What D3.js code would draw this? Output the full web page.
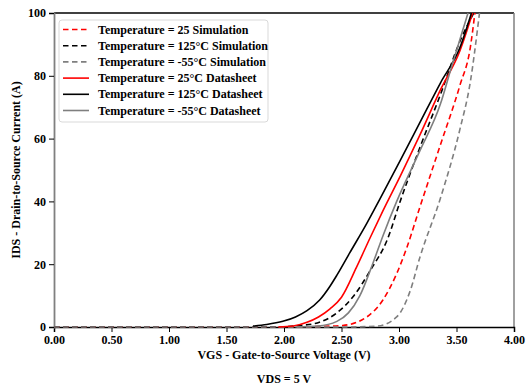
<!DOCTYPE html>
<html>
<head>
<meta charset="utf-8">
<script src="https://cdn.jsdelivr.net/npm/d3@7"></script>
<style>
  body { margin: 0; background: #fff; }
  svg text { font-family: "Liberation Serif", "Times New Roman", serif; font-weight: bold; fill: #000; }
</style>
</head>
<body>
<div id="chart"></div>
<script>
// simulation curves (VGS in V, IDS in A)
const sim25V   = [0, 2.20, 2.31, 2.51, 2.72, 2.86, 2.98, 3.07, 3.18, 3.36, 3.53, 3.62, 3.66];
const sim25I   = [0, 0,    0.2,  0.5,  3.2,  8.6,  17,   25.5, 38,   58,   77,   89,   100];
const sim125V  = [0, 1.95, 2.14, 2.29, 2.46, 2.60, 2.75, 2.90, 3.01, 3.18, 3.36, 3.53, 3.65];
const sim125I  = [0, 0,    0.5,  1.3,  4.5,  9.6,  18,   28,   40,   57,   74,   91,   100];
const simM55V  = [0, 2.55, 2.81, 2.98, 3.10, 3.18, 3.36, 3.53, 3.62, 3.69, 3.70];
const simM55I  = [0, 0,    0.3,  3.2,  11.8, 22,   41,   63,   78,   97,   100];

// datasheet curves
const ds25V    = [1.95, 2.08, 2.20, 2.30, 2.40, 2.50, 2.63, 2.75, 2.86, 3.01, 3.18, 3.36, 3.53, 3.64];
const ds25I    = [0,    0.3,  1.5,  3.2,  5.8,  9.5,  19,   28.5, 37,   48,   61,   75.5, 88,   100];
const ds125V   = [1.73, 1.85, 1.99, 2.10, 2.20, 2.31, 2.40, 2.46, 2.57, 2.72, 2.83, 3.01, 3.18, 3.36, 3.53, 3.63];
const ds125I   = [0.3,  0.8,  1.8,  3.2,  5.2,  8.6,  13,   16.5, 23.5, 33,   40.5, 53,   65,   77.7, 89,   100];
const dsM55V   = [2.10, 2.29, 2.46, 2.56, 2.66, 2.77, 2.86, 2.98, 3.18, 3.36, 3.45, 3.55, 3.60];
const dsM55I   = [0,    0.3,  1.8,  4.5,  10,   20,   29,   40,   56,   71,   82,   94,   100];

const xTicks = [0, 0.5, 1.0, 1.5, 2.0, 2.5, 3.0, 3.5, 4.0];
const yTicks = [0, 20, 40, 60, 80, 100];

const series = [
  { name: "Temperature = 25 Simulation",      v: sim25V,  i: sim25I,  color: "#ff0000", dash: true },
  { name: "Temperature = 125°C Simulation",   v: sim125V, i: sim125I, color: "#000000", dash: true },
  { name: "Temperature = -55°C Simulation",   v: simM55V, i: simM55I, color: "#7f7f7f", dash: true },
  { name: "Temperature = 25°C Datasheet",     v: ds25V,   i: ds25I,   color: "#ff0000", dash: false },
  { name: "Temperature = 125°C Datasheet",    v: ds125V,  i: ds125I,  color: "#000000", dash: false },
  { name: "Temperature = -55°C Datasheet",    v: dsM55V,  i: dsM55I,  color: "#7f7f7f", dash: false }
];

const width = 529, height = 387;
const margin = { top: 13, right: 15, bottom: 60, left: 54 };
const innerW = width - margin.left - margin.right;
const innerH = height - margin.top - margin.bottom;
const fs = "12px";

const svg = d3.select("#chart").append("svg")
  .attr("width", width)
  .attr("height", height);

const g = svg.append("g").attr("transform", `translate(${margin.left},${margin.top})`);

const x = d3.scaleLinear().domain([0, 4]).range([0, innerW]);
const y = d3.scaleLinear().domain([0, 100]).range([innerH, 0]);

g.append("clipPath").attr("id", "clip")
  .append("rect").attr("width", innerW).attr("height", innerH + 2).attr("y", -1);

// frame: top black, right gray
g.append("line").attr("x1", 0).attr("x2", innerW).attr("y1", 0).attr("y2", 0)
  .attr("stroke", "#000").attr("stroke-width", 1.5);
g.append("line").attr("x1", innerW).attr("x2", innerW).attr("y1", 0).attr("y2", innerH)
  .attr("stroke", "#808080").attr("stroke-width", 1.5);

// axes
const xAxis = g.append("g")
  .attr("transform", `translate(0,${innerH})`)
  .call(d3.axisBottom(x).tickValues(xTicks).tickFormat(d3.format(".2f")).tickSize(5).tickPadding(3));
xAxis.select(".domain").attr("stroke", "#000").attr("stroke-width", 1.5);
xAxis.selectAll(".tick line").attr("stroke", "#000");
xAxis.selectAll("text").style("font-size", fs);

const yAxis = g.append("g")
  .call(d3.axisLeft(y).tickValues(yTicks).tickFormat(d3.format("d")).tickSize(5).tickPadding(3));
yAxis.select(".domain").attr("stroke", "#808080").attr("stroke-width", 1.8);
yAxis.selectAll(".tick line").attr("stroke", "#000");
yAxis.selectAll("text").style("font-size", fs);

// curves
const line = d3.line()
  .x((d) => x(d[0]))
  .y((d) => y(d[1]))
  .curve(d3.curveMonotoneX);

const curves = g.append("g").attr("clip-path", "url(#clip)");
series.forEach((s) => {
  curves.append("path")
    .datum(s.v.map((v, k) => [v, s.i[k]]))
    .attr("fill", "none")
    .attr("stroke", s.color)
    .attr("stroke-width", 1.6)
    .attr("stroke-dasharray", s.dash ? "5.5,3.5" : null)
    .attr("d", line);
});

// axis titles
svg.append("text")
  .attr("x", margin.left + innerW / 2)
  .attr("y", 359)
  .attr("text-anchor", "middle")
  .style("font-size", fs)
  .text("VGS - Gate-to-Source Voltage (V)");

svg.append("text")
  .attr("x", margin.left + innerW / 2)
  .attr("y", 383)
  .attr("text-anchor", "middle")
  .style("font-size", fs)
  .text("VDS = 5 V");

svg.append("text")
  .attr("transform", `translate(20,${margin.top + innerH / 2}) rotate(-90)`)
  .attr("text-anchor", "middle")
  .style("font-size", fs)
  .text("IDS - Drain-to-Source Current (A)");

// legend
const legend = svg.append("g").attr("transform", "translate(59,20)");
legend.append("rect")
  .attr("width", 209).attr("height", 102)
  .attr("rx", 3)
  .attr("fill", "#fff")
  .attr("stroke", "#d9d9d9");

series.forEach((s, k) => {
  const ly = 9.5 + k * 16.2;
  legend.append("line")
    .attr("x1", 4).attr("x2", 30)
    .attr("y1", ly).attr("y2", ly)
    .attr("stroke", s.color)
    .attr("stroke-width", 1.6)
    .attr("stroke-dasharray", s.dash ? "5.5,3.5" : null);
  legend.append("text")
    .attr("x", 39)
    .attr("y", ly + 4)
    .style("font-size", fs)
    .text(s.name);
});
</script>
</body>
</html>
